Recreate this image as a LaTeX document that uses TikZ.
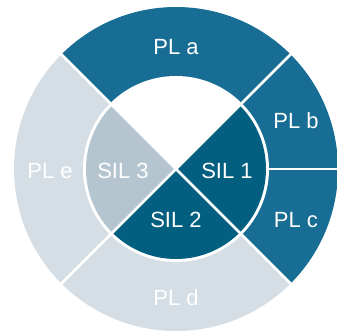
\documentclass[tikz,border=0pt]{standalone}
\usepackage{fontspec}
\setmainfont{Liberation Sans}
\definecolor{plblue}{RGB}{23,109,147}
\definecolor{silblue}{RGB}{3,95,128}
\definecolor{plgray}{RGB}{213,222,229}
\definecolor{silgray}{RGB}{180,197,208}
\tikzset{
  lbl/.style={text=white, font=\fontsize{22}{26}\selectfont, inner sep=0pt},
  sep/.style={draw=white, line width=2.5pt}
}
\begin{document}
\begin{tikzpicture}[x=1pt,y=1pt]
\useasboundingbox (0,0) rectangle (337,331);
\clip (0,0) rectangle (337,331);
\begin{scope}[shift={(176,162)}]
  % outer ring sectors
  \fill[plblue] (0,0) -- (45:162) arc[start angle=45,end angle=135,radius=162] -- cycle;
  \fill[plblue] (0,0) -- (0:162) arc[start angle=0,end angle=45,radius=162] -- cycle;
  \fill[plblue] (0,0) -- (-45:162) arc[start angle=-45,end angle=0,radius=162] -- cycle;
  \fill[plgray] (0,0) -- (-135:162) arc[start angle=-135,end angle=-45,radius=162] -- cycle;
  \fill[plgray] (0,0) -- (135:162) arc[start angle=135,end angle=225,radius=162] -- cycle;
  % inner disc
  \fill[white] (0,0) circle[radius=93];
  \fill[silblue] (0,0) -- (-45:90) arc[start angle=-45,end angle=45,radius=90] -- cycle;
  \fill[silblue] (0,0) -- (-135:90) arc[start angle=-135,end angle=-45,radius=90] -- cycle;
  \fill[silgray] (0,0) -- (135:90) arc[start angle=135,end angle=225,radius=90] -- cycle;
  % separators
  \coordinate (o) at (0,0);
  \coordinate (d1) at (45:170);
  \coordinate (d2) at (135:170);
  \coordinate (d3) at (-135:170);
  \coordinate (d4) at (-45:170);
  \coordinate (h0) at (92,0);
  \coordinate (h1) at (170,0);
  \draw[sep] (o) -- (d1);
  \draw[sep] (o) -- (d2);
  \draw[sep] (o) -- (d3);
  \draw[sep] (o) -- (d4);
  \draw[sep] (h0) -- (h1);
  % labels
  \node[lbl] (pla) at (0,122) {PL a};
  \node[lbl] (plb) at (120,48) {PL b};
  \node[lbl] (plc) at (120,-51) {PL c};
  \node[lbl] (pld) at (0,-129) {PL d};
  \node[lbl] (ple) at (-126,-2) {PL e};
  \node[lbl] (sil3) at (-53,-2) {SIL 3};
  \node[lbl] (sil1) at (51,-2) {SIL 1};
  \node[lbl] (sil2) at (0,-51) {SIL 2};
\end{scope}
\end{tikzpicture}
\end{document}
